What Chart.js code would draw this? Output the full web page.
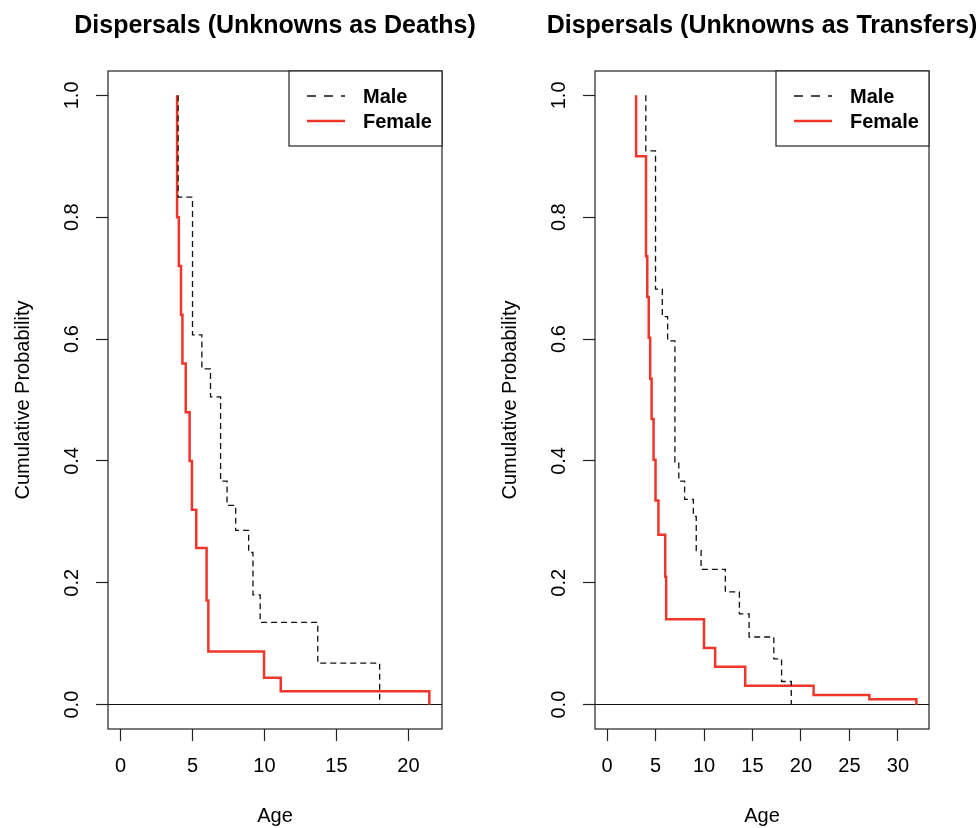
<!DOCTYPE html>
<html>
<head>
<meta charset="utf-8">
<title>Dispersals</title>
<script src="https://cdn.jsdelivr.net/npm/chart.js@4.4.1/dist/chart.umd.min.js"></script>
<style>
   html, body { margin: 0; padding: 0; background: #fff; overflow: hidden; }
   #wrapper { position: relative; width: 978px; height: 828px; overflow: hidden; }
   canvas { position: absolute; top: 0; }
   #chart-deaths { left: 0; }
   #chart-transfers { left: 487px; }
</style>
</head>
<body>
<div id="wrapper">
   <canvas id="chart-deaths" width="550" height="828"></canvas>
   <canvas id="chart-transfers" width="550" height="828"></canvas>
</div>
<script>
// Unknowns as Deaths (left panel)
const deathsMaleAge = [4, 4, 5, 5.65, 6.25, 6.95, 7.4, 8, 8.9, 9.2, 9.7, 13.7, 18];
const deathsMaleProb = [1, 0.833, 0.607, 0.551, 0.505, 0.367, 0.327, 0.286, 0.25, 0.18, 0.135, 0.068, 0];
const deathsFemaleAge = [3.93, 3.93, 4.05, 4.2, 4.3, 4.53, 4.8, 4.96, 5.26, 5.98, 6.1, 9.97, 11.13, 21.45];
const deathsFemaleProb = [1, 0.8, 0.72, 0.64, 0.56, 0.48, 0.4, 0.32, 0.257, 0.171, 0.087, 0.044, 0.022, 0];

// Unknowns as Transfers (right panel)
const transfersMaleAge = [4, 4, 5, 5.7, 6.25, 7, 7.4, 8, 8.9, 9.2, 9.7, 12.2, 13.65, 14.65, 17.2, 18, 19];
const transfersMaleProb = [1, 0.909, 0.682, 0.637, 0.597, 0.398, 0.367, 0.337, 0.309, 0.253, 0.222, 0.185, 0.149, 0.111, 0.075, 0.038, 0];
const transfersFemaleAge = [3, 3, 4.02, 4.15, 4.3, 4.45, 4.6, 4.8, 5, 5.3, 6, 6.1, 10, 11.15, 14.25, 21.3, 27.05, 31.9];
const transfersFemaleProb = [1, 0.9, 0.736, 0.669, 0.602, 0.535, 0.469, 0.402, 0.335, 0.279, 0.21, 0.14, 0.093, 0.062, 0.031, 0.016, 0.009, 0];

// Tick labels
const deathsAgeTicks = [0, 5, 10, 15, 20];
const transfersAgeTicks = [0, 5, 10, 15, 20, 25, 30];
const probTicks = [0, 0.2, 0.4, 0.6, 0.8, 1.0];

Chart.defaults.font.family = '"Liberation Sans", Arial, Helvetica, sans-serif';
Chart.defaults.color = '#000';

function toPoints(ages, probs) {
   return ages.map((a, i) => ({ x: a, y: probs[i] }));
}

// box around the plot region
const frameBox = {
   id: 'frameBox',
   afterDraw(chart) {
      const { ctx, chartArea: a } = chart;
      ctx.save();
      ctx.strokeStyle = '#222';
      ctx.lineWidth = 1.2;
      ctx.strokeRect(a.left, a.top, a.right - a.left, a.bottom - a.top);
      ctx.restore();
   }
};

// legend inside the top right corner, with a frame
const insetLegend = {
   id: 'insetLegend',
   afterDraw(chart, args, opts) {
      const { ctx, chartArea: a } = chart;
      const w = 153, h = 75;
      const x = a.right - w, y = a.top;
      ctx.save();
      ctx.fillStyle = '#fff';
      ctx.fillRect(x, y, w, h);
      ctx.strokeStyle = '#222';
      ctx.lineWidth = 1.2;
      ctx.strokeRect(x, y, w, h);
      ctx.font = 'bold 20px "Liberation Sans", Arial, sans-serif';
      ctx.textBaseline = 'middle';
      chart.data.datasets.forEach((ds, i) => {
         const ly = y + 25 + i * 25;
         ctx.beginPath();
         ctx.setLineDash(ds.borderDash ? opts.sampleDash : []);
         ctx.strokeStyle = ds.borderColor;
         ctx.lineWidth = ds.borderWidth;
         ctx.moveTo(x + 18, ly);
         ctx.lineTo(x + 56, ly);
         ctx.stroke();
         ctx.setLineDash([]);
         ctx.fillStyle = '#000';
         ctx.fillText(ds.label, x + 74, ly + 1);
      });
      ctx.restore();
   }
};

function createChart(element, title, maleData, femaleData, ageRange, ageTicks) {
   return new Chart(element, {
      type: 'line',
      data: {
         datasets: [{
            label: 'Male',
            data: maleData,
            borderColor: '#111',
            borderWidth: 1.3,
            borderDash: [6, 4],
            stepped: 'before',
            pointRadius: 0,
            fill: false
         }, {
            label: 'Female',
            data: femaleData,
            borderColor: '#F0362A',
            borderWidth: 2.5,
            stepped: 'before',
            pointRadius: 0,
            fill: false
         }]
      },
      options: {
         responsive: false,
         animation: false,
         devicePixelRatio: 1,
         layout: { padding: 0 },
         scales: {
            x: {
               type: 'linear',
               min: ageRange[0],
               max: ageRange[1],
               afterBuildTicks: s => { s.ticks = ageTicks.map(v => ({ value: v })); },
               afterFit: s => { s.height = 99; },
               border: { display: false },
               grid: { color: 'transparent', tickColor: '#222', tickLength: 12, tickWidth: 1.2 },
               ticks: { font: { size: 20 }, padding: 13, maxRotation: 0, autoSkip: false },
               title: { display: true, text: 'Age', font: { size: 20 }, padding: { top: 0, bottom: 0 } }
            },
            y: {
               type: 'linear',
               min: -0.04,
               max: 1.04,
               afterBuildTicks: s => { s.ticks = probTicks.map(v => ({ value: v })); },
               afterFit: s => { s.width = 108; },
               border: { display: false },
               grid: {
                  color: c => (c.tick && Math.abs(c.tick.value) < 1e-9) ? '#111' : 'transparent',
                  lineWidth: 1,
                  tickColor: '#222',
                  tickLength: 12,
                  tickWidth: 1.2
               },
               ticks: {
                  font: { size: 20 },
                  padding: 0,
                  minRotation: 90,
                  maxRotation: 90,
                  crossAlign: 'center',
                  align: 'end',
                  autoSkip: false,
                  callback: v => v.toFixed(1)
               },
               title: { display: true, text: 'Cumulative Probability', font: { size: 20 }, padding: { top: 11, bottom: 0 } }
            },
            // empty axis on the right, keeps the plot centred under the title
            yRight: {
               position: 'right',
               display: true,
               grid: { display: false },
               ticks: { display: false },
               border: { display: false },
               afterFit: s => { s.width = 108; }
            }
         },
         plugins: {
            legend: { display: false },
            tooltip: { enabled: false },
            insetLegend: { sampleDash: [9, 8] },
            title: {
               display: true,
               text: title,
               font: { size: 25, weight: 'bold' },
               padding: { top: 11, bottom: 30 }
            }
         }
      },
      plugins: [frameBox, insetLegend]
   });
}

createChart(document.getElementById('chart-deaths'), 'Dispersals (Unknowns as Deaths)',
   toPoints(deathsMaleAge, deathsMaleProb), toPoints(deathsFemaleAge, deathsFemaleProb),
   [-0.87, 22.33], deathsAgeTicks);

createChart(document.getElementById('chart-transfers'), 'Dispersals (Unknowns as Transfers)',
   toPoints(transfersMaleAge, transfersMaleProb), toPoints(transfersFemaleAge, transfersFemaleProb),
   [-1.24, 33.2], transfersAgeTicks);
</script>
</body>
</html>
